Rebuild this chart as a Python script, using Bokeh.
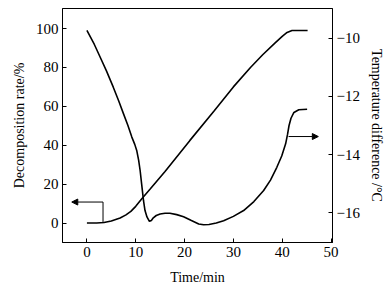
from bokeh.plotting import figure
from bokeh.models import Range1d, LinearAxis, Arrow, NormalHead, FixedTicker
from bokeh.embed import file_html
from bokeh.resources import INLINE

# Decomposition rate (left axis)
time_dec = [0, 2, 3.5, 5, 6.8, 8, 9, 10, 11.2, 13, 16, 21.1, 26, 30, 33.5, 36, 38.5, 40, 41, 42, 45.2]
decomp = [0, 0, 0.3, 1.1, 2.6, 4.2, 6.0, 8.6, 12.4, 17.6, 26.5, 42.5, 57.5, 70, 80, 86.5, 92.5, 96, 98, 99, 99]

# Temperature difference (right axis)
time_temp = [0, 1.5, 2.7, 4, 5.4, 6.5, 7.5, 8.4, 9.2, 9.8, 10.2, 10.6, 10.9, 11.2, 11.6, 11.9, 12.3,
             12.8, 13.2, 13.6, 14.2, 15, 16, 17, 18.4, 19.8, 21.4, 22.9, 23.9, 25, 26.5, 28, 30,
             32.1, 34.2, 36.2, 37.6, 38.9, 39.9, 40.7, 41.1, 41.4, 41.8, 42.4, 43.4, 45.1]
temp_diff = [-9.72, -10.2, -10.64, -11.12, -11.68, -12.15, -12.6, -13.0, -13.4, -13.65, -13.86,
             -14.2, -14.55, -15.0, -15.6, -15.93, -16.15, -16.3, -16.27, -16.18, -16.1, -16.05,
             -16.02, -16.02, -16.07, -16.14, -16.27, -16.39, -16.42, -16.41, -16.36, -16.28,
             -16.13, -15.93, -15.62, -15.24, -14.88, -14.44, -14.05, -13.63, -13.3, -13.0,
             -12.75, -12.55, -12.46, -12.44]

x_ticks = [0, 10, 20, 30, 40, 50]
left_ticks = [0, 20, 40, 60, 80, 100]
right_ticks = [-16, -14, -12, -10]

# indicator arrows: left one points to left axis, right one to right axis
left_arrow_x = [3.3, 3.3, -3.1]
left_arrow_y = [0, 10.8]
right_arrow_x = [41.3, 47.4]
right_arrow_y = -13.38

FONT = "Liberation Serif"

p = figure(width=388, height=290, output_backend="svg", toolbar_location=None,
           x_range=Range1d(-5, 50.3), y_range=Range1d(-10, 110.3),
           min_border_left=62, min_border_right=56, min_border_top=8, min_border_bottom=48)
p.extra_y_ranges = {"temp": Range1d(-17.03, -8.97)}
p.grid.visible = False
p.outline_line_color = "black"
p.outline_line_width = 1
p.background_fill_color = "white"

p.line(time_dec, decomp, line_color="black", line_width=1.6)
p.line(time_temp, temp_diff, line_color="black", line_width=1.6, y_range_name="temp")

# left arrow
p.line([left_arrow_x[0], left_arrow_x[1]], left_arrow_y, line_color="black", line_width=1)
p.add_layout(Arrow(x_start=left_arrow_x[1], y_start=left_arrow_y[1], x_end=left_arrow_x[2],
                   y_end=left_arrow_y[1], line_color="black", line_width=1,
                   end=NormalHead(size=6, fill_color="black", line_color="black")))
# right arrow
p.add_layout(Arrow(x_start=right_arrow_x[0], y_start=right_arrow_y, x_end=right_arrow_x[1],
                   y_end=right_arrow_y, y_range_name="temp", line_color="black", line_width=1,
                   end=NormalHead(size=6, fill_color="black", line_color="black")))

right_axis = LinearAxis(y_range_name="temp", axis_label="Temperature difference /°C")
p.add_layout(right_axis, "right")

p.xaxis.ticker = FixedTicker(ticks=x_ticks)
p.yaxis[0].ticker = FixedTicker(ticks=left_ticks)
right_axis.ticker = FixedTicker(ticks=right_ticks)
p.xaxis.axis_label = "Time/min"
p.yaxis[0].axis_label = "Decomposition rate/%"

for ax in p.xaxis + p.yaxis:
    ax.major_tick_in = 4
    ax.major_tick_out = 0
    ax.minor_tick_in = 0
    ax.minor_tick_out = 0
    ax.axis_line_color = "black"
    ax.major_tick_line_color = "black"
    ax.major_label_text_font = FONT
    ax.major_label_text_font_size = "15px"
    ax.major_label_text_color = "black"
    ax.axis_label_text_font = FONT
    ax.axis_label_text_font_size = "14px"
    ax.axis_label_text_font_style = "normal"
    ax.axis_label_text_color = "black"
    ax.major_label_standoff = 4
    ax.axis_label_standoff = 6

p.xaxis.axis_label_standoff = 10

out = file_html(p, INLINE)
open("out.html", "w").write(out)
